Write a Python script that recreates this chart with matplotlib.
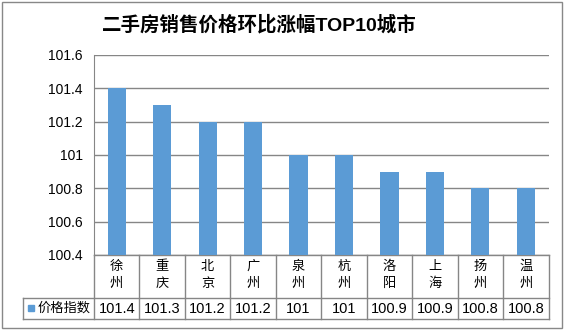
import matplotlib.pyplot as plt
from matplotlib.patches import Rectangle
import numpy as np

plt.rcParams['font.family'] = ['Liberation Sans', 'Noto Sans CJK SC', 'DejaVu Sans']

cities = ["徐州", "重庆", "北京", "广州", "泉州", "杭州", "洛阳", "上海", "扬州", "温州"]
price_index = [101.4, 101.3, 101.2, 101.2, 101, 101, 100.9, 100.9, 100.8, 100.8]
value_labels = ["101.4", "101.3", "101.2", "101.2", "101", "101", "100.9", "100.9", "100.8", "100.8"]
yticks = [100.4, 100.6, 100.8, 101, 101.2, 101.4, 101.6]
ytick_labels = ["100.4", "100.6", "100.8", "101", "101.2", "101.4", "101.6"]
series_name = "价格指数"
title = "二手房销售价格环比涨幅TOP10城市"

bar_color = "#5B9BD5"
line_color = "#868686"

W, H = 565, 330
fig = plt.figure(figsize=(W / 100, H / 100), dpi=100)

# plot area in pixels
left, right, top, bottom = 94, 548.5, 55, 255
ax = fig.add_axes([left / W, 1 - bottom / H, (right - left) / W, (bottom - top) / H])

n = len(cities)
index = np.arange(n) + 0.5
ax.bar(index, np.array(price_index) - 100.4, bottom=100.4, width=0.4, color=bar_color, zorder=3)
ax.set_xlim(0, n)
ax.set_ylim(100.4, 101.6)
ax.set_yticks(yticks)
ax.set_yticklabels(ytick_labels, fontsize=10)
ax.tick_params(axis='y', length=0, pad=8)
ax.set_xticks([])
ax.grid(axis='y', color=line_color, lw=1)
for s in ["top", "right", "bottom"]:
    ax.spines[s].set_visible(False)
ax.spines["left"].set_color(line_color)

# data table under the chart
tr = ax.get_xaxis_transform()
ph = bottom - top
y_cat = -(298 - bottom) / ph
y_end = -(319 - bottom) / ph
col_w = (right - left) / n
x_leg = (23 - left) / col_w

kw = dict(color=line_color, lw=1, transform=tr, clip_on=False)
ax.plot([0, n], [0, 0], **kw)
ax.plot([x_leg, n], [y_cat, y_cat], **kw)
ax.plot([x_leg, n], [y_end, y_end], **kw)
ax.plot([x_leg, x_leg], [y_cat, y_end], **kw)
for i in range(n + 1):
    ax.plot([i, i], [0, y_end], **kw)

for i, c in enumerate(cities):
    ax.text(index[i], -(267 - bottom) / ph, c[0], transform=tr, ha='center', va='center', fontsize=9.5)
    ax.text(index[i], -(284 - bottom) / ph, c[1], transform=tr, ha='center', va='center', fontsize=9.5)
    ax.text(index[i], -(309 - bottom) / ph, value_labels[i], transform=tr, ha='center', va='center', fontsize=10.5)

# legend key inside table
fig.patches.append(Rectangle((28 / W, 1 - 311 / H), 6 / W, 6 / H, color=bar_color, transform=fig.transFigure))
fig.text(38 / W, 1 - 308.5 / H, series_name, ha='left', va='center', fontsize=9.5)

fig.text(259 / W, 1 - 25 / H, title, ha='center', va='center', fontsize=14, fontweight='bold')

# outer frame
fig.patches.append(Rectangle((2 / W, 1 - 328 / H), 560 / W, 326 / H, fill=False,
                             edgecolor="#888888", lw=1, transform=fig.transFigure))

fig.savefig("out.png", dpi=100)
